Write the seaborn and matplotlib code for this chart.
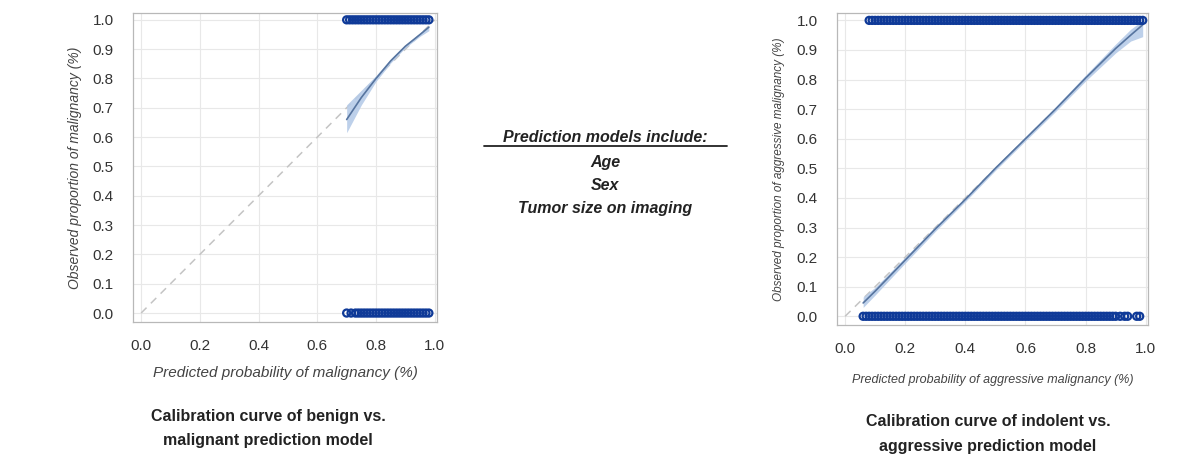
import numpy as np
import pandas as pd
import seaborn as sns
import matplotlib.pyplot as plt

# observed outcomes (predicted probability of cases at 1 = event, 0 = no event)
benign_event_x = [0.70, 0.71, 0.72, 0.73, 0.74, 0.75, 0.76, 0.77, 0.78, 0.79,
                  0.80, 0.81, 0.82, 0.83, 0.84, 0.85, 0.86, 0.87, 0.88, 0.89,
                  0.90, 0.91, 0.92, 0.93, 0.94, 0.95, 0.96, 0.97, 0.98]
benign_none_x = [0.70, 0.715, 0.73, 0.74, 0.75, 0.76, 0.77, 0.78, 0.79,
                 0.80, 0.81, 0.82, 0.83, 0.84, 0.85, 0.86, 0.87, 0.88, 0.89,
                 0.90, 0.91, 0.92, 0.93, 0.94, 0.95, 0.96, 0.97, 0.98]

aggr_event_x = [0.08, 0.09, 0.10, 0.11, 0.12, 0.13, 0.14, 0.15, 0.16, 0.17,
                0.18, 0.19, 0.20, 0.21, 0.22, 0.23, 0.24, 0.25, 0.26, 0.27,
                0.28, 0.29, 0.30, 0.31, 0.32, 0.33, 0.34, 0.35, 0.36, 0.37,
                0.38, 0.39, 0.40, 0.41, 0.42, 0.43, 0.44, 0.45, 0.46, 0.47,
                0.48, 0.49, 0.50, 0.51, 0.52, 0.53, 0.54, 0.55, 0.56, 0.57,
                0.58, 0.59, 0.60, 0.61, 0.62, 0.63, 0.64, 0.65, 0.66, 0.67,
                0.68, 0.69, 0.70, 0.71, 0.72, 0.73, 0.74, 0.75, 0.76, 0.77,
                0.78, 0.79, 0.80, 0.81, 0.82, 0.83, 0.84, 0.85, 0.86, 0.87,
                0.88, 0.89, 0.90, 0.91, 0.92, 0.93, 0.94, 0.95, 0.96, 0.97,
                0.98, 0.99]
aggr_none_x = [0.06, 0.07, 0.08, 0.09, 0.10, 0.11, 0.12, 0.13, 0.14, 0.15,
               0.16, 0.17, 0.18, 0.19, 0.20, 0.21, 0.22, 0.23, 0.24, 0.25,
               0.26, 0.27, 0.28, 0.29, 0.30, 0.31, 0.32, 0.33, 0.34, 0.35,
               0.36, 0.37, 0.38, 0.39, 0.40, 0.41, 0.42, 0.43, 0.44, 0.45,
               0.46, 0.47, 0.48, 0.49, 0.50, 0.51, 0.52, 0.53, 0.54, 0.55,
               0.56, 0.57, 0.58, 0.59, 0.60, 0.61, 0.62, 0.63, 0.64, 0.65,
               0.66, 0.67, 0.68, 0.69, 0.70, 0.71, 0.72, 0.73, 0.74, 0.75,
               0.76, 0.77, 0.78, 0.79, 0.80, 0.81, 0.82, 0.83, 0.84, 0.85,
               0.86, 0.87, 0.88, 0.89, 0.90, 0.915, 0.93, 0.94, 0.97, 0.98]

# smoothed calibration curves with confidence band
benign_curve_x = [0.70, 0.75, 0.80, 0.85, 0.90, 0.95, 0.98]
benign_curve_y = [0.66, 0.735, 0.80, 0.86, 0.91, 0.95, 0.975]
benign_lower = [0.615, 0.71, 0.79, 0.853, 0.905, 0.944, 0.963]
benign_upper = [0.71, 0.76, 0.81, 0.867, 0.915, 0.956, 0.98]

aggr_curve_x = [0.06, 0.10, 0.20, 0.30, 0.40, 0.50, 0.60, 0.70, 0.80, 0.90, 0.95, 0.99]
aggr_curve_y = [0.045, 0.085, 0.19, 0.295, 0.395, 0.50, 0.60, 0.70, 0.805, 0.905, 0.95, 0.985]
aggr_lower = [0.03, 0.072, 0.18, 0.287, 0.388, 0.493, 0.593, 0.692, 0.795, 0.89, 0.93, 0.945]
aggr_upper = [0.065, 0.098, 0.20, 0.303, 0.402, 0.507, 0.607, 0.708, 0.815, 0.92, 0.97, 1.0]

ticks = [0.0, 0.2, 0.4, 0.6, 0.8, 1.0]
yticks = [0.0, 0.1, 0.2, 0.3, 0.4, 0.5, 0.6, 0.7, 0.8, 0.9, 1.0]

sns.set_style("whitegrid", {"grid.color": "#e8e8e8", "axes.edgecolor": "#b8b8b8"})
plt.rcParams['font.family'] = ['Liberation Sans', 'DejaVu Sans']

marker_blue = '#0f3a98'
band_blue = '#b6cbe8'
line_blue = '#56749f'
txt = '#333333'

fig = plt.figure(figsize=(12, 4.74), dpi=100)
ax1 = fig.add_axes([0.111, 0.321, 0.253, 0.652])
ax2 = fig.add_axes([0.6975, 0.314, 0.259, 0.658])


def draw_panel(ax, ev_x, none_x, cx, cy, lo, hi):
    pts = pd.DataFrame({'pred': list(ev_x) + list(none_x),
                        'obs': [1.0] * len(ev_x) + [0.0] * len(none_x)})
    ax.plot([0, 1], [0, 1], ls=(0, (5, 4)), color='#c4c4c4', lw=1.1, zorder=1)
    ax.fill_between(cx, lo, hi, color=band_blue, alpha=0.9, lw=0, zorder=2)
    sns.lineplot(x=cx, y=cy, ax=ax, color=line_blue, lw=1.2, zorder=3)
    sns.scatterplot(data=pts, x='pred', y='obs', ax=ax, marker='o', s=26,
                    facecolors='none', edgecolors=marker_blue, linewidths=1.6,
                    zorder=4)
    ax.set_xlim(-0.027, 1.007)
    ax.set_ylim(-0.03, 1.024)
    ax.set_xticks(ticks)
    ax.set_yticks(yticks)
    ax.set_xticklabels([f'{t:.1f}' for t in ticks])
    ax.set_yticklabels([f'{t:.1f}' for t in yticks])
    ax.tick_params(axis='x', length=0, pad=12, labelsize=11, labelcolor=txt)
    ax.tick_params(axis='y', length=0, pad=14, labelsize=11, labelcolor=txt)
    for s in ax.spines.values():
        s.set_linewidth(0.9)


draw_panel(ax1, benign_event_x, benign_none_x, benign_curve_x, benign_curve_y,
           benign_lower, benign_upper)
draw_panel(ax2, aggr_event_x, aggr_none_x, aggr_curve_x, aggr_curve_y,
           aggr_lower, aggr_upper)

ax1.set_xlabel('Predicted probability of malignancy (%)', fontsize=11,
               style='italic', color='#444444', labelpad=10)
ax1.set_ylabel('Observed proportion of malignancy (%)', fontsize=10,
               style='italic', color='#444444', labelpad=8)
ax2.set_xlabel('Predicted probability of aggressive malignancy (%)', fontsize=9,
               style='italic', color='#444444', labelpad=13)
ax2.set_ylabel('Observed proportion of aggressive malignancy (%)', fontsize=8.5,
               style='italic', color='#444444', labelpad=8)

# model description in the middle
fig.text(605 / 1200, 1 - 138 / 474, 'Prediction models include:', ha='center',
         va='center', fontsize=11.5, weight='bold', style='italic', color='#222222')
fig.add_artist(plt.Line2D([484 / 1200, 727 / 1200], [1 - 146 / 474, 1 - 146 / 474],
                          color='#222222', lw=1.3))
for label, ypx in [('Age', 162), ('Sex', 185), ('Tumor size on imaging', 208)]:
    fig.text(605 / 1200, 1 - ypx / 474, label, ha='center', va='center',
             fontsize=11.5, weight='bold', style='italic', color='#222222')

fig.text(268 / 1200, 1 - 428 / 474,
         'Calibration curve of benign vs.\nmalignant prediction model',
         ha='center', va='center', fontsize=11.5, weight='bold', color='#222222',
         linespacing=1.75)
fig.text(988 / 1200, 1 - 434 / 474,
         'Calibration curve of indolent vs.\naggressive prediction model',
         ha='center', va='center', fontsize=11.5, weight='bold', color='#222222',
         linespacing=1.75)

fig.savefig('out.png', dpi=100)
